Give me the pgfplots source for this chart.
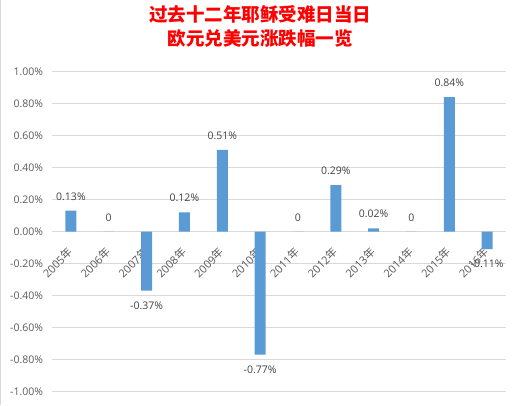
\documentclass[border=0pt]{standalone}
\usepackage{fontspec}
\setmainfont{Open Sans}
\newfontfamily\cjk{Noto Sans CJK SC}
\usepackage{pgfplots}
\pgfplotsset{compat=1.18}
\usepackage{pgfplotstable}
\definecolor{barblue}{HTML}{5B9BD5}
\definecolor{gridgray}{HTML}{D9D9D9}
\definecolor{ticktext}{HTML}{595959}
\definecolor{labeltext}{HTML}{404040}
\newcommand{\lblfont}{\fontsize{10.5}{12}\selectfont}
\pgfplotsset{
  layers/labelsontop/.define layer set={axis background,axis grid,axis ticks,axis lines,main,axis tick labels,axis descriptions,axis foreground}{},
}
% non-negative values
\pgfplotstableread{
x y lab
0 0.13 0.13\%
1 0 0
3 0.12 0.12\%
4 0.51 0.51\%
6 0 0
7 0.29 0.29\%
8 0.02 0.02\%
9 0 0
10 0.84 0.84\%
}\pos
% negative values
\pgfplotstableread{
x y lab
2 -0.37 -0.37\%
5 -0.77 -0.77\%
11 -0.11 -0.11\%
}\neg
\begin{document}
\begin{tikzpicture}
\path (0,0) rectangle (520pt,404pt);
\draw[gridgray, line width=1pt] (0.5pt,0pt) -- (0.5pt,404pt);
\begin{axis}[
  set layers=labelsontop,
  at={(52pt,13pt)}, anchor=south west,
  scale only axis, width=454pt, height=320pt,
  xmin=-0.5, xmax=11.5, ymin=-1, ymax=1,
  axis line style={draw=none},
  major tick length=0pt,
  ymajorgrids, grid style={gridgray, line width=0.8pt},
  ytick={-1,-0.8,-0.6,-0.4,-0.2,0,0.2,0.4,0.6,0.8,1},
  yticklabels={{-1.00\%},{-0.80\%},{-0.60\%},{-0.40\%},{-0.20\%},{0.00\%},{0.20\%},{0.40\%},{0.60\%},{0.80\%},{1.00\%}},
  tick label style={font=\lblfont},
  yticklabel style={text=ticktext, xshift=-5.5pt},
  xtick={0,...,11},
  xticklabels={2005{\cjk 年},2006{\cjk 年},2007{\cjk 年},2008{\cjk 年},2009{\cjk 年},2010{\cjk 年},2011{\cjk 年},2012{\cjk 年},2013{\cjk 年},2014{\cjk 年},2015{\cjk 年},2016{\cjk 年}},
  xticklabel style={yshift=144pt, xshift=2pt, rotate=45, anchor=east, font=\fontsize{11}{12}\selectfont, text=ticktext},
  title={过去十二年耶稣受难日当日\\欧元兑美元涨跌幅一览},
  title style={at={(0.5,1)}, anchor=center, yshift=39pt, xshift=-19pt, align=center,
    font=\cjk\fontsize{18.5}{24.5}\selectfont\bfseries, text=red},
]
\addplot[ybar, bar width=11pt, bar shift=0pt, fill=barblue, draw=none,
  point meta=explicit symbolic,
  nodes near coords,
  every node near coord/.append style={font=\lblfont, text=labeltext, inner sep=2pt, anchor=south, yshift=8pt},
] table[x=x, y=y, meta=lab] {\pos};
\addplot[ybar, bar width=11pt, bar shift=0pt, fill=barblue, draw=none,
  point meta=explicit symbolic,
  nodes near coords,
  every node near coord/.append style={font=\lblfont, text=labeltext, inner sep=2pt, anchor=north, yshift=-9pt},
] table[x=x, y=y, meta=lab] {\neg};
\end{axis}
\end{tikzpicture}
\end{document}
